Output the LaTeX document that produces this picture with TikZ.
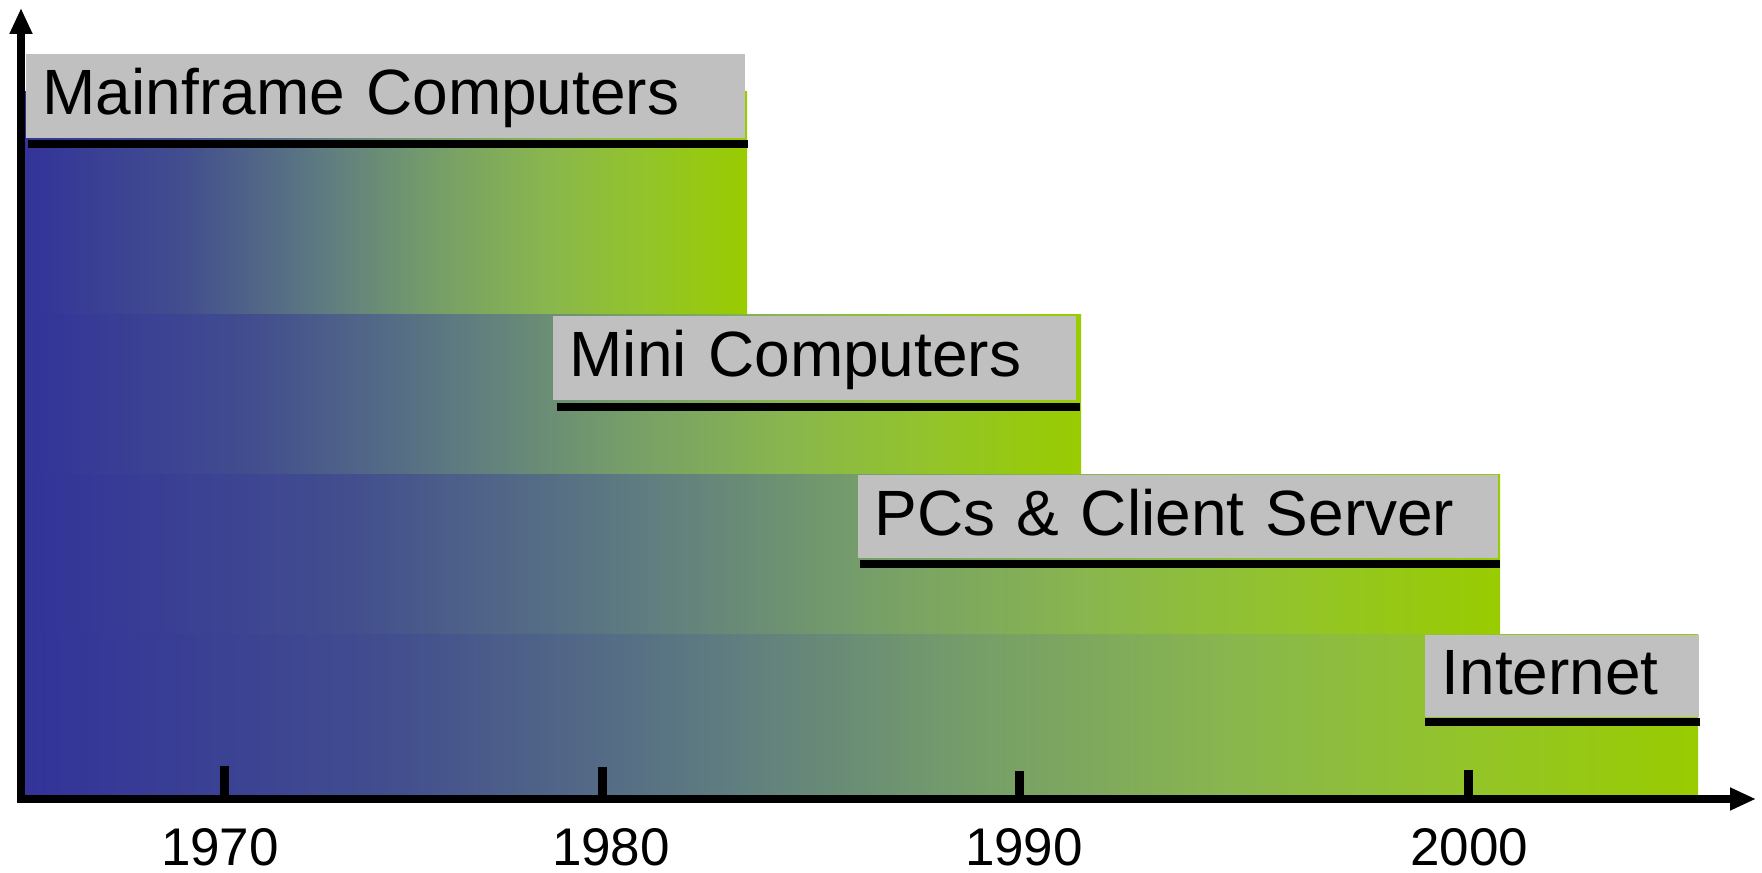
\documentclass[tikz,border=0pt]{standalone}
\usepackage{fontspec}
\setmainfont{Liberation Sans}
\usetikzlibrary{arrows.meta}
\definecolor{cA}{RGB}{51,51,153}
\definecolor{cB}{RGB}{66,78,142}
\definecolor{cC}{RGB}{95,125,128}
\definecolor{cD}{RGB}{118,158,105}
\definecolor{cE}{RGB}{137,182,78}
\definecolor{cF}{RGB}{147,196,42}
\definecolor{cG}{RGB}{153,204,0}
\definecolor{labelgray}{RGB}{192,192,192}
\pgfdeclarehorizontalshading{bandshade}{100bp}{color(0bp)=(cA); color(25bp)=(cA); color(36bp)=(cB); color(46bp)=(cC); color(53.5bp)=(cD); color(61bp)=(cE); color(68bp)=(cF); color(75bp)=(cG); color(100bp)=(cG)}
\tikzset{
  lbl/.style={fill=labelgray, anchor=north west, inner xsep=5.1pt, inner ysep=0pt,
    text height=14pt, text depth=2.6pt, align=left,
    font=\fontsize{19.2pt}{23pt}\selectfont},
  uline/.style={line width=2.4pt},
  axisline/.style={line width=2.4pt, -{Triangle[length=7.8pt,width=6.4pt]}},
  tickmark/.style={line width=2.7pt},
  yearlbl/.style={font=\fontsize{15.9pt}{19pt}\selectfont, anchor=base, inner sep=0pt},
  band/.style={shading=bandshade}
}
\begin{document}
\begin{tikzpicture}[x=0.3pt,y=-0.3pt]
\useasboundingbox (0,0) rectangle (1762,873);
% gradient bands
\shade[band] (25,92) rectangle (747,315);
\shade[band] (25,315) rectangle (1081,475);
\shade[band] (25,475) rectangle (1500,635);
\shade[band] (25,635) rectangle (1698,795);
% labels
\node[lbl, text width=205.5pt, minimum height=25.2pt] (l1) at (25,53) {Mainframe Computers};
\node[lbl, text width=146.7pt, minimum height=25.2pt] (l2) at (552,315) {Mini Computers};
\node[lbl, text width=181.8pt, minimum height=24.9pt] (l3) at (857,474) {PCs \& Client Server};
\node[lbl, text width=72pt, minimum height=24.6pt] (l4) at (1424,634) {Internet};
% underlines
\draw[uline] ([shift={(3,6)}]l1.south west) -- ([shift={(3,6)}]l1.south east);
\draw[uline] ([shift={(5,7)}]l2.south west) -- ([shift={(4,7)}]l2.south east);
\draw[uline] ([shift={(3,6)}]l3.south west) -- ([shift={(2,6)}]l3.south east);
\draw[uline] ([shift={(1,5)}]l4.south west) -- ([shift={(1,5)}]l4.south east);
% axes
\coordinate (O) at (21,799);
\coordinate (ybot) at (21,803);
\coordinate (ytip) at (21,8);
\coordinate (xstart) at (17,799);
\coordinate (xtip) at (1756,799);
\draw[axisline] (ybot) -- (ytip);
\draw[axisline] (xstart) -- (xtip);
% ticks
\coordinate (t1) at (224,766);
\coordinate (t2) at (602,767);
\coordinate (t3) at (1019,771);
\coordinate (t4) at (1468,770);
\draw[tickmark] (t1) -- (t1 |- O);
\draw[tickmark] (t2) -- (t2 |- O);
\draw[tickmark] (t3) -- (t3 |- O);
\draw[tickmark] (t4) -- (t4 |- O);
% years
\node[yearlbl] (y1970) at (220,866) {1970};
\node[yearlbl] (y1980) at (611,866) {1980};
\node[yearlbl] (y1990) at (1024,866) {1990};
\node[yearlbl] (y2000) at (1469,866) {2000};
\end{tikzpicture}
\end{document}
